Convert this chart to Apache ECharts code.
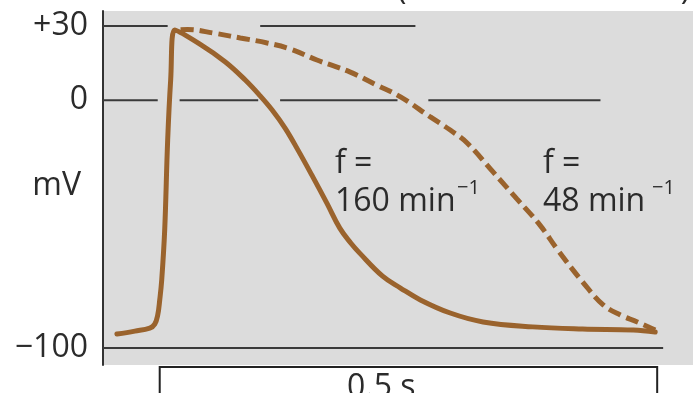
<!DOCTYPE html>
<html>
<head>
<meta charset="utf-8">
<script src="https://cdn.jsdelivr.net/npm/echarts@6/dist/echarts.min.js"></script>
<style>
  html, body { margin: 0; padding: 0; background: #fff; }
  #chart { width: 693px; height: 393px; }
</style>
</head>
<body>
<div id="chart"></div>
<script>
// Time in ms (0 = start of the upstroke), membrane potential in mV.
const fastTime = [-43, -25, -10, -5, -2, 0, 2, 5, 8, 11, 15, 40, 66, 86, 101, 113, 126, 139, 154, 168, 181, 192, 201, 224, 242, 262, 292, 325, 375, 425, 476, 498];
const fastMv   = [-94.4, -93.2, -92.0, -90.4, -86.7, -80.7, -72.6, -52.4, -16.0, 8.2, 28.4, 22.8, 15.5, 8.2, 1.8, -3.9, -11.2, -20.1, -31.0, -41.5, -51.6, -57.6, -61.7, -71.0, -75.8, -80.6, -85.9, -89.5, -91.5, -92.4, -92.8, -93.6];

const slowTime = [15, 28, 54, 81, 108, 131, 158, 191, 218, 242, 272, 292, 309, 335, 359, 382, 400, 426, 446, 463, 480, 498];
const slowMv   = [28.4, 28.6, 27.2, 25.2, 23.2, 20.8, 16.3, 11.5, 6.2, 1.4, -6.7, -12.0, -17.2, -28.9, -39.8, -50.3, -60.4, -73.8, -82.7, -86.7, -89.5, -92.8];

// Reference levels (mV) with the time spans (ms) where their guide lines are drawn
const levelValues = [30, 0, -100];
const levelLabels = ['+30', '0', '\u2212100'];
const levelSpans = [
  [[-57, 8], [101, 257]],
  [[-57, -2], [20, 99], [121, 239], [270, 443]],
  [[-57, 506]]
];

const rateLabels = ['160', '48'];
const unitLabel = 'mV';
const scaleBarMs = 500;
const scaleBarText = '0.5 s';

const FONT = 'Open Sans';
const BROWN = '#9a632d';
const INK = '#2b2b2b';

const zip = (xs, ys) => xs.map((x, i) => [x, ys[i]]);

// Guide segments as one line series; null breaks the path between segments
const guideData = [];
levelSpans.forEach((spans, i) => {
  spans.forEach(([a, b]) => {
    guideData.push([a, levelValues[i]], [b, levelValues[i]], null);
  });
});

const chart = echarts.init(document.getElementById('chart'), null, { renderer: 'canvas' });

const option = {
  animation: false,
  backgroundColor: '#ffffff',
  grid: {
    left: 103, right: 0, top: 11, bottom: 28,
    containLabel: false, outerBoundsMode: 'none',
    show: true, backgroundColor: '#dcdcdc', borderWidth: 0
  },
  xAxis: {
    type: 'value', min: -57, max: 536,
    show: false
  },
  yAxis: {
    type: 'value', min: -106.9, max: 36.1,
    splitLine: { show: false },
    axisTick: { show: false },
    axisLine: { show: true, onZero: false, lineStyle: { color: '#333', width: 2 } },
    axisLabel: {
      customValues: levelValues,
      formatter: v => levelLabels[levelValues.indexOf(v)] || '',
      margin: 15,
      color: INK, fontFamily: FONT, fontSize: 32
    }
  },
  series: [
    {
      type: 'line', data: guideData, connectNulls: false,
      symbol: 'none', silent: true,
      lineStyle: { color: '#3a3a3a', width: 2 }, z: 1
    },
    {
      name: 'f = ' + rateLabels[0], type: 'line', data: zip(fastTime, fastMv),
      symbol: 'none', smooth: 0.4,
      lineStyle: { color: BROWN, width: 5, cap: 'round', join: 'round' }, z: 3
    },
    {
      name: 'f = ' + rateLabels[1], type: 'line', data: zip(slowTime, slowMv),
      symbol: 'none', smooth: 0.4,
      lineStyle: { color: BROWN, width: 5, type: [13, 6], dashOffset: -6, cap: 'butt' }, z: 2
    }
  ]
};
chart.setOption(option);

// Time scale bar beneath the panel, sized from the x scale
const x0 = chart.convertToPixel({ xAxisIndex: 0 }, 0);
const x1 = chart.convertToPixel({ xAxisIndex: 0 }, scaleBarMs);

const textStyle = (text, x, y, size, align, vAlign) => ({
  type: 'text', x, y,
  style: { text, fill: INK, font: size + 'px "' + FONT + '"', align: align || 'left', verticalAlign: vAlign || 'middle' },
  z: 10
});

chart.setOption({
  graphic: [
    {
      type: 'rect', shape: { x: x0, y: 367, width: x1 - x0, height: 40 },
      style: { fill: '#ffffff', stroke: '#222', lineWidth: 2 }, z: 5
    },
    textStyle(scaleBarText, 347, 372, 32, 'left', 'top'),
    textStyle('(ventricular muscle)', 397, 6, 32, 'left', 'bottom'),
    textStyle(unitLabel, 81, 186, 32, 'right'),
    textStyle('f =', 335, 164, 32),
    textStyle(rateLabels[0] + ' min', 335, 202, 32),
    textStyle('\u22121', 457, 188, 20),
    textStyle('f =', 543, 164, 32),
    textStyle(rateLabels[1] + ' min', 543, 202, 32),
    textStyle('\u22121', 652, 188, 20)
  ]
});
</script>
</body>
</html>
